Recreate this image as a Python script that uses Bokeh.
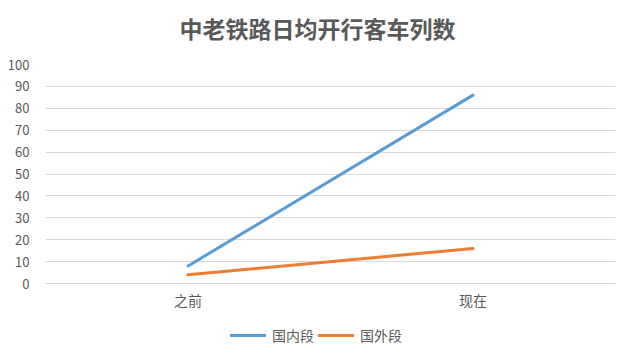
from bokeh.plotting import figure
from bokeh.layouts import column
from bokeh.models import Range1d, FactorRange, Legend, LegendItem, Label, SingleIntervalTicker, ColumnDataSource
from bokeh.embed import file_html
from bokeh.resources import INLINE

categories = ["之前", "现在"]
domestic = [8, 86]
foreign = [4, 16]
series_names = ["国内段", "国外段"]
series_colors = ["#5B9BD5", "#ED7D31"]
title_text = "中老铁路日均开行客车列数"

FONT = "Noto Sans CJK SC"
GRAY = "#595959"
W = 619

src = ColumnDataSource(dict(x=categories, d=domestic, f=foreign))

# title strip
tf = figure(width=W, height=50, output_backend="svg", toolbar_location=None,
            x_axis_type=None, y_axis_type=None,
            min_border_left=45, min_border_right=4, min_border_top=0, min_border_bottom=0)
tf.outline_line_color = None
tf.grid.visible = False
tf.add_layout(Label(x=272, y=23, x_units="screen", y_units="screen", text=title_text,
                    text_font=FONT, text_font_size="23px", text_font_style="bold",
                    text_color=GRAY, text_align="center", text_baseline="middle"))

# main chart
p = figure(width=W, height=266, output_backend="svg", toolbar_location=None,
           x_range=FactorRange(*categories), y_range=Range1d(0, 100),
           min_border_left=45, min_border_right=4, min_border_top=14, min_border_bottom=33)
p.outline_line_color = None
p.background_fill_color = "white"
p.border_fill_color = "white"

p.line("x", "d", source=src, line_color=series_colors[0], line_width=3, line_cap="round")
p.line("x", "f", source=src, line_color=series_colors[1], line_width=3, line_cap="round")

p.yaxis.ticker = SingleIntervalTicker(interval=10)
p.yaxis.axis_line_color = None
p.yaxis.major_tick_line_color = None
p.yaxis.minor_tick_line_color = None
p.yaxis.major_label_text_color = GRAY
p.yaxis.major_label_text_font = FONT
p.yaxis.major_label_text_font_size = "13px"
p.yaxis.major_label_standoff = 10

p.xaxis.axis_line_color = "#d9d9d9"
p.xaxis.major_tick_line_color = None
p.xaxis.minor_tick_line_color = None
p.xaxis.major_label_text_color = GRAY
p.xaxis.major_label_text_font = FONT
p.xaxis.major_label_text_font_size = "14px"
p.xaxis.major_label_standoff = 0

p.xgrid.grid_line_color = None
p.ygrid.grid_line_color = "#d9d9d9"

# legend strip (proxy lines lie outside its visible y range)
lg = figure(width=W, height=30, output_backend="svg", toolbar_location=None,
            x_range=FactorRange(*categories), y_range=Range1d(1000, 1100),
            x_axis_type=None, y_axis_type=None,
            min_border_left=45, min_border_right=4, min_border_top=0, min_border_bottom=0)
lg.outline_line_color = None
lg.grid.visible = False
lr1 = lg.line("x", "d", source=src, line_color=series_colors[0], line_width=3, line_cap="round")
lr2 = lg.line("x", "f", source=src, line_color=series_colors[1], line_width=3, line_cap="round")

legend = Legend(items=[LegendItem(label=series_names[0], renderers=[lr1]),
                       LegendItem(label=series_names[1], renderers=[lr2])],
                orientation="horizontal", location=(185, 1),
                glyph_width=36, glyph_height=16, label_standoff=6, spacing=4,
                padding=0, margin=0, border_line_color=None, background_fill_alpha=0,
                label_text_font=FONT, label_text_font_size="14px", label_text_color=GRAY)
lg.add_layout(legend)

layout = column(tf, p, lg, spacing=0)
open("out.html", "w").write(file_html(layout, INLINE))
